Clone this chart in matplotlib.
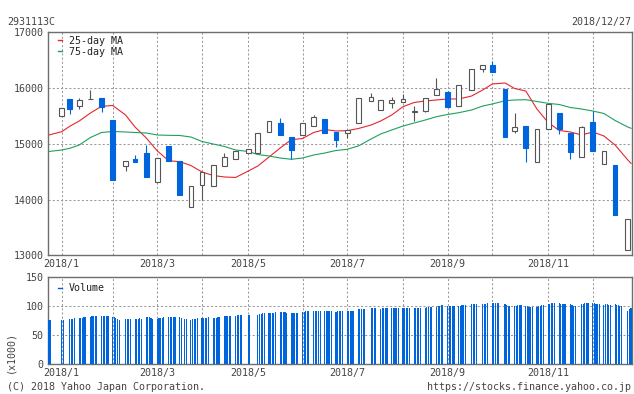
import matplotlib
matplotlib.use("Agg")
import matplotlib.pyplot as plt
import matplotlib.dates as mdates
import pandas as pd
from matplotlib.lines import Line2D

# ---------------- data ----------------
week_dates = ["2018-01-04", "2018-01-09", "2018-01-15", "2018-01-22", "2018-01-29",
              "2018-02-05", "2018-02-13", "2018-02-19", "2018-02-26",
              "2018-03-05", "2018-03-12", "2018-03-19", "2018-03-26",
              "2018-04-02", "2018-04-09", "2018-04-16", "2018-04-23",
              "2018-05-01", "2018-05-07", "2018-05-14", "2018-05-21", "2018-05-28",
              "2018-06-04", "2018-06-11", "2018-06-18", "2018-06-25",
              "2018-07-02", "2018-07-09", "2018-07-17", "2018-07-23", "2018-07-30",
              "2018-08-06", "2018-08-13", "2018-08-20", "2018-08-27",
              "2018-09-03", "2018-09-10", "2018-09-18", "2018-09-25",
              "2018-10-01", "2018-10-09", "2018-10-15", "2018-10-22", "2018-10-29",
              "2018-11-05", "2018-11-12", "2018-11-19", "2018-11-26",
              "2018-12-03", "2018-12-10", "2018-12-17", "2018-12-25"]

opens = [15504, 15798, 15683, 15806, 15822, 15427, 14610, 14727, 14835, 14310, 14960, 14690, 13861,
         14256, 14243, 14602, 14727, 14830, 14830, 15212, 15373, 15117, 15152, 15320, 15440, 15206,
         15190, 15368, 15775, 15612, 15727, 15755, 15572, 15594, 15870, 15929, 15673, 15960, 16336,
         16413, 15978, 15235, 15319, 14668, 15260, 15547, 15194, 14758, 15391, 14632, 14620, 13095]
highs = [15640, 15798, 15816, 15965, 15822, 15427, 14700, 14800, 14980, 14740, 14960, 14690, 14235,
         14500, 14614, 14840, 14876, 14900, 15188, 15409, 15457, 15117, 15368, 15517, 15440, 15206,
         15253, 15816, 15917, 15786, 15845, 15893, 15678, 15816, 16180, 15953, 16049, 16336, 16408,
         16485, 15978, 15558, 15319, 15260, 15709, 15547, 15194, 15320, 15583, 14871, 14620, 13646]
lows = [15504, 15540, 15619, 15806, 15576, 14351, 14518, 14680, 14410, 14310, 14697, 14090, 13861,
        13990, 14243, 14602, 14727, 14830, 14830, 15212, 15152, 14722, 15152, 15320, 15188, 14950,
        15100, 15368, 15775, 15612, 15648, 15755, 15414, 15570, 15870, 15655, 15673, 15960, 16293,
        16293, 15127, 15188, 14680, 14668, 15260, 15170, 14733, 14758, 14876, 14632, 13728, 13095]
closes = [15637, 15619, 15780, 15812, 15666, 14351, 14700, 14680, 14410, 14740, 14697, 14090, 14235,
          14500, 14614, 14770, 14876, 14900, 15188, 15409, 15152, 14895, 15368, 15486, 15188, 15063,
          15253, 15816, 15834, 15786, 15780, 15798, 15580, 15816, 15983, 15655, 16049, 16336, 16408,
          16293, 15127, 15296, 14930, 15260, 15709, 15260, 14858, 15296, 14876, 14871, 13728, 13646]

ma_dates = ["2017-12-27"] + week_dates + ["2018-12-27"]
ma25 = [15158, 15217, 15314, 15409, 15552, 15673, 15687, 15517, 15301, 15104, 14871, 14697, 14679,
        14611, 14494, 14431, 14405, 14396, 14512, 14602, 14763, 14925, 15074, 15095, 15203, 15257,
        15230, 15235, 15274, 15337, 15409, 15517, 15666, 15741, 15768, 15786, 15804, 15804, 15857,
        15965, 16073, 16091, 15992, 15947, 15624, 15382, 15239, 15212, 15158, 15212, 15140, 14979,
        14709, 14650]
ma75 = [14862, 14889, 14919, 14978, 15113, 15203, 15221, 15212, 15203, 15194, 15158, 15152, 15149,
        15122, 15041, 14996, 14952, 14889, 14862, 14808, 14781, 14745, 14722, 14745, 14799, 14835,
        14880, 14901, 14961, 15086, 15176, 15248, 15319, 15373, 15427, 15486, 15526, 15558, 15606,
        15678, 15714, 15773, 15786, 15791, 15759, 15726, 15705, 15651, 15624, 15588, 15544, 15418,
        15301, 15278]

market_holidays = ["2017-12-29", "2018-01-01", "2018-01-02", "2018-01-03", "2018-01-08",
                   "2018-02-12", "2018-03-21", "2018-04-30", "2018-05-03", "2018-05-04",
                   "2018-07-16", "2018-09-17", "2018-09-24", "2018-10-08", "2018-11-23",
                   "2018-12-24"]

# daily volume (x1000), grouped by week
volume_weeks = [
    [76.4, 76.4],
    [76.4, 76.5],
    [78.1, 78.1, 78.5, 79.3],
    [79.5, 80.4, 80.4, 81.6, 81.6],
    [82.1, 82.5, 83.3, 82.7, 83.3],
    [83.3, 82.7, 83.3, 83.3, 83.0],
    [82.1, 81.6, 80.4, 78.1, 76.4],
    [77.5, 78.1, 78.1, 77.5],
    [78.1, 78.7, 78.7, 79.3, 78.7],
    [81.6, 82.1, 81.6, 80.4, 78.1],
    [78.7, 79.3, 79.8, 80.4, 81.6],
    [81.6, 81.6, 81.6, 81.6, 81.0],
    [81.6, 79.3, 78.1, 77.5],
    [76.4, 78.1, 78.7, 78.7, 79.3],
    [79.3, 79.3, 79.8, 80.4, 81.6],
    [79.3, 79.3, 80.4, 81.0, 82.1],
    [82.7, 82.7, 83.3, 83.9, 83.9],
    [83.3, 84.5, 85.1, 85.1, 85.1],
    [85.1, 85.1],
    [85.1, 86.2, 86.8, 87.9, 88.5],
    [89.1, 89.1, 89.1, 89.1, 89.6],
    [90.2, 90.2, 90.2, 90.2, 89.1],
    [88.5, 88.5, 87.9, 88.5, 88.5],
    [90.2, 90.7, 91.4, 91.4, 91.9],
    [91.9, 91.9, 92.4, 91.9, 91.9],
    [91.9, 91.9, 91.9, 92.4, 91.9],
    [90.7, 91.4, 91.4, 91.4, 91.4],
    [91.9, 91.9, 91.9, 91.9, 91.9],
    [94.8, 95.3, 95.9, 95.9, 95.9],
    [96.5, 97.1, 97.7, 97.7],
    [95.3, 96.5, 97.1, 97.7, 97.7],
    [96.5, 97.1, 97.7, 97.7, 97.7],
    [97.7, 97.7, 97.1, 96.5, 96.5],
    [96.5, 97.1, 97.7, 97.7, 97.1],
    [97.7, 98.3, 98.8, 99.4, 99.4],
    [99.4, 100.5, 101.1, 102.3, 101.7],
    [101.1, 100.5, 100.5, 101.1, 100.5],
    [100.5, 101.1, 101.7, 102.3, 102.3],
    [103.4, 103.4, 103.4, 103.4],
    [103.4, 104.0, 104.5, 105.1],
    [105.7, 105.7, 105.7, 105.7, 105.7],
    [103.4, 102.3, 101.1, 100.5],
    [100.5, 101.1, 102.3, 102.3, 101.7],
    [101.1, 100.5, 99.4, 99.4, 99.4],
    [99.4, 100.5, 101.1, 102.3, 102.3],
    [103.4, 104.5, 105.7, 105.7, 105.1],
    [105.1, 104.5, 103.4, 103.4, 103.4],
    [103.4, 102.3, 101.1, 101.1],
    [103.4, 104.5, 105.1, 105.1, 105.1],
    [106.3, 105.1, 103.4, 103.4, 103.4],
    [102.3, 103.4, 103.4, 102.3, 102.3],
    [103.4, 102.3, 101.7, 101.1, 101.1],
    [92.4, 94.8, 97.7],
]

price_ticks = [13000, 14000, 15000, 16000, 17000]
volume_ticks = [0, 50, 100, 150]

# ---------------- styling ----------------
W, H = 634, 394
BLUE = "#0064dc"
RED = "#e6262e"
GREEN = "#1fa05f"
EDGE = "#555555"
TXT = "#444444"
SPINE = "#6e6e6e"
GRID = "#9a9a9a"
FONT = "DejaVu Sans Mono"
FS = 7.2

plt.rcParams["font.family"] = [FONT, "DejaVu Sans"]

wk = mdates.date2num(pd.to_datetime(week_dates))
o = pd.Series(opens, dtype=float).values
c = pd.Series(closes, dtype=float).values
hi = pd.Series(highs, dtype=float).values
lo = pd.Series(lows, dtype=float).values
up = c >= o

days = pd.bdate_range("2017-12-27", "2018-12-27")
days = days[~days.isin(pd.to_datetime(market_holidays))]
vol = [v for wkv in volume_weeks for v in wkv]
assert len(vol) == len(days), (len(vol), len(days))
dn = mdates.date2num(days)

# month grid: first candle of each month
wd = pd.to_datetime(week_dates)
first_idx = []
seen = set()
for i, d in enumerate(wd):
    if d.month not in seen:
        seen.add(d.month)
        first_idx.append(i)
month_x = [wk[i] for i in first_idx]
month_lab = [f"{wd[i].year}/{wd[i].month}" if wd[i].month % 2 == 1 else "" for i in first_idx]

xmin = mdates.date2num(pd.Timestamp("2017-12-26 05:00"))
xmax = mdates.date2num(pd.Timestamp("2018-12-27 10:00"))

fig = plt.figure(figsize=(W / 100, H / 100), dpi=100)
fig.patch.set_facecolor("white")
L = 47.7 / W
AW = 584 / W
ax = fig.add_axes([L, 1 - 255.3 / H, AW, 223 / H])
axv = fig.add_axes([L, 1 - 364.3 / H, AW, 87 / H])


def style(a):
    for s in a.spines.values():
        s.set_color(SPINE)
        s.set_linewidth(1.0)
    a.tick_params(length=0, labelsize=FS, colors=TXT, pad=3)
    a.set_axisbelow(True)
    a.grid(True, linestyle=(0, (2, 2)), color=GRID, linewidth=0.75)
    a.set_xlim(xmin, xmax)
    a.set_xticks(month_x)
    a.set_xticklabels(month_lab)


style(ax)
style(axv)

# main panel
ax.set_ylim(13000, 17000)
ax.set_yticks(price_ticks)
ax.set_yticklabels([str(t) for t in price_ticks])

ax.plot(mdates.date2num(pd.to_datetime(ma_dates)), ma25, color=RED, lw=0.8, zorder=2)
ax.plot(mdates.date2num(pd.to_datetime(ma_dates)), ma75, color=GREEN, lw=0.8, zorder=2)

wick_col = [EDGE if u else BLUE for u in up]
ax.vlines(wk, lo, hi, colors=wick_col, linewidth=0.8, zorder=3)
face = ["white" if u else BLUE for u in up]
edge = [EDGE if u else BLUE for u in up]
ax.bar(wk, c - o, bottom=o, width=3.0, color=face, edgecolor=edge, linewidth=0.8, zorder=4)

leg = ax.legend(handles=[Line2D([], [], color=RED, lw=1), Line2D([], [], color=GREEN, lw=1)],
                labels=["25-day MA", "75-day MA"], loc="upper left",
                bbox_to_anchor=(0.017, 0.985), frameon=False, fontsize=FS,
                handlelength=0.45, handletextpad=0.7, labelspacing=0.12,
                borderpad=0, borderaxespad=0)
for t in leg.get_texts():
    t.set_color("#222222")

# volume panel
axv.set_ylim(0, 150)
axv.set_yticks(volume_ticks)
axv.set_yticklabels([str(t) for t in volume_ticks])
axv.bar(dn, vol, width=0.7, color=BLUE, linewidth=0, zorder=3, antialiased=False)
legv = axv.legend(handles=[Line2D([], [], color=BLUE, lw=1)], labels=["Volume"],
                  loc="upper left", bbox_to_anchor=(0.017, 0.93), frameon=False,
                  fontsize=FS, handlelength=0.45, handletextpad=0.7,
                  borderpad=0, borderaxespad=0)
for t in legv.get_texts():
    t.set_color("#222222")

# texts
fig.text(7.3 / W, 1 - 21.7 / H, "2931113C", fontsize=FS, color=TXT, va="center", ha="left")
fig.text(631 / W, 1 - 21.7 / H, "2018/12/27", fontsize=FS, color=TXT, va="center", ha="right")
fig.text(7.3 / W, 1 - 386.5 / H, "(C) 2018 Yahoo Japan Corporation.", fontsize=FS,
         color=TXT, va="center", ha="left")
fig.text(631 / W, 1 - 386.5 / H, "https://stocks.finance.yahoo.co.jp", fontsize=FS,
         color=TXT, va="center", ha="right")
fig.text(10 / W, 1 - 352 / H, "(x1000)", fontsize=FS, color=TXT, va="center", ha="center",
         rotation=90)

fig.savefig("out.png", dpi=100)
